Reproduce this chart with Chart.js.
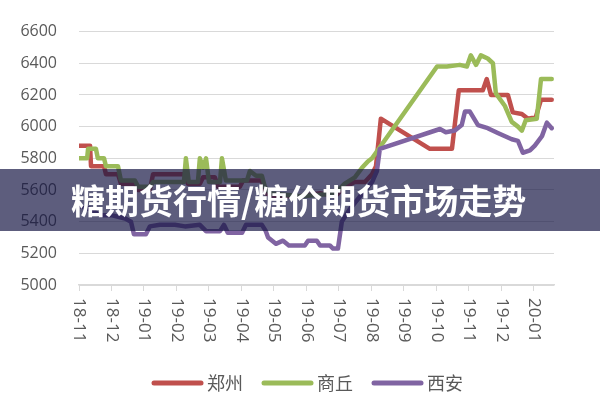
<!DOCTYPE html>
<html>
<head>
<meta charset="utf-8">
<script src="https://cdn.jsdelivr.net/npm/chart.js@4"></script>
<style>
  html, body { margin: 0; padding: 0; background: #fff; }
  #wrap { position: relative; width: 600px; height: 400px; overflow: hidden; }
  #banner {
    position: absolute; left: 0; top: 169px; width: 600px; height: 62px;
    background: rgba(20, 20, 66, 0.69);
  }
  #banner span {
    position: absolute; left: 71px; top: 50%; transform: translateY(-50%);
    font-family: "Noto Sans CJK SC", sans-serif; font-weight: 700;
    font-size: 34px; color: #fff; white-space: nowrap; line-height: 1;
  }
</style>
</head>
<body>
<div id="wrap">
  <canvas id="chart" width="600" height="400"></canvas>
  <div id="banner"><span>糖期货行情/糖价期货市场走势</span></div>
</div>
<script>
/*
  Sugar spot prices, three markets, Nov 2018 - Feb 2020.
  x positions are in months counted from 18-11 (0 = first tick).
*/

const MONTH_LABELS = ["18-11", "18-12", "19-01", "19-02", "19-03", "19-04", "19-05",
  "19-06", "19-07", "19-08", "19-09", "19-10", "19-11", "19-12", "20-01"];
const X_END = 14.62;

const Y_MIN = 5000;
const Y_MAX = 6600;
const Y_STEP = 200;

const SERIES_NAMES = ["郑州", "商丘", "西安"];
const SERIES_COLORS = ["#c0504d", "#9bbb59", "#8064a2"];

// 郑州
const ZHENGZHOU_X = [0, 0.34, 0.37, 0.77, 0.83, 1.2, 1.29, 1.72, 1.82, 2.18, 2.28, 3.26, 3.35,
  3.72, 3.82, 4.18, 4.28, 4.95, 5.05, 5.63, 5.72, 6.03, 6.8, 7.42, 7.88, 8.18, 8.49, 8.8,
  9.02, 9.14, 9.29, 10.8, 11.48, 11.69, 12.43, 12.55, 12.68, 13.2, 13.35, 13.63, 13.82,
  14.06, 14.22, 14.55];
const ZHENGZHOU_Y = [5880, 5880, 5750, 5750, 5700, 5700, 5640, 5640, 5600, 5600, 5700, 5700, 5640,
  5640, 5680, 5680, 5620, 5620, 5660, 5660, 5580, 5560, 5560, 5580, 5560, 5620, 5650, 5650,
  5700, 5750, 6050, 5860, 5860, 6230, 6230, 6300, 6200, 6200, 6090, 6080, 6050,
  6060, 6170, 6170];

// 商丘
const SHANGQIU_X = [0, 0.25, 0.28, 0.52, 0.58, 0.77, 0.83, 1.2, 1.29, 1.72, 1.82, 2.18, 2.28,
  3.23, 3.29, 3.38, 3.66, 3.72, 3.82, 3.91, 4.0, 4.34, 4.4, 4.52, 5.17, 5.26, 5.45, 5.63,
  5.72, 5.88, 6.8, 7.42, 7.88, 8.18, 8.49, 8.71, 8.89, 9.02, 11.02, 11.32, 11.72, 11.94,
  12.06, 12.22, 12.37, 12.58, 12.74, 12.83, 13.11, 13.32, 13.51, 13.63, 13.75, 14.09,
  14.22, 14.55];
const SHANGQIU_Y = [5800, 5800, 5860, 5860, 5800, 5800, 5750, 5750, 5660, 5660, 5620, 5620, 5650,
  5650, 5800, 5650, 5650, 5800, 5740, 5800, 5650, 5650, 5800, 5660, 5660, 5720, 5690, 5690,
  5620, 5580, 5560, 5570, 5580, 5640, 5680, 5740, 5780, 5800, 6380, 6380, 6390, 6380,
  6450, 6390, 6450, 6430, 6400, 6210, 6130, 6030, 6000, 5975, 6040, 6050,
  6300, 6300];

// 西安
const XIAN_X = [0, 0.34, 0.65, 1.02, 1.42, 1.6, 1.69, 2.06, 2.18, 2.49, 2.95, 3.26, 3.72, 3.91,
  4.34, 4.46, 4.58, 5.02, 5.14, 5.63, 5.75, 5.82, 6.06, 6.28, 6.46, 6.95, 7.05, 7.32, 7.42,
  7.72, 7.82, 7.97, 8.09, 8.34, 8.65, 9.02, 9.17, 9.26, 11.11, 11.29, 11.57, 11.78, 11.88,
  12.03, 12.28, 12.58, 12.89, 13.32, 13.51, 13.66, 13.88, 14.03, 14.25, 14.4, 14.55];
const XIAN_Y = [5500, 5480, 5440, 5440, 5420, 5400, 5320, 5320, 5370, 5380, 5380, 5370, 5380, 5340,
  5340, 5380, 5330, 5330, 5380, 5380, 5340, 5300, 5260, 5280, 5250, 5250, 5280, 5280, 5250,
  5250, 5230, 5230, 5400, 5480, 5560, 5650, 5720, 5860, 5985, 5965, 5975, 6010, 6095,
  6095, 6010, 5990, 5960, 5920, 5910, 5835, 5850, 5880, 5940, 6025, 5990];

const TEXT_COLOR = "#595959";
const GRID_COLOR = "#d9d9d9";

function toPoints(xs, ys) {
  return xs.map((x, i) => ({ x, y: ys[i] }));
}

function makeDataset(idx, xs, ys) {
  return {
    label: SERIES_NAMES[idx],
    data: toPoints(xs, ys),
    borderColor: SERIES_COLORS[idx],
    backgroundColor: SERIES_COLORS[idx],
    borderWidth: 4.5,
    borderCapStyle: "round",
    borderJoinStyle: "round",
    pointRadius: 0,
    tension: 0,
    order: 2 - idx, // later series on top, like the original
  };
}

// x labels read top-to-bottom, and the legend is drawn by hand
const extrasPlugin = {
  id: "extras",
  afterDraw(chart) {
    const ctx = chart.ctx;
    const xScale = chart.scales.x;
    ctx.save();
    ctx.fillStyle = TEXT_COLOR;
    ctx.font = '17px "Open Sans"';
    ctx.textAlign = "left";
    ctx.textBaseline = "middle";
    MONTH_LABELS.forEach((lab, i) => {
      const px = xScale.getPixelForValue(i);
      ctx.save();
      ctx.translate(px, xScale.top + 13);
      ctx.rotate(Math.PI / 2);
      ctx.fillText(lab, 0, 0);
      ctx.restore();
    });

    const legendY = 383;
    const itemX = [152, 262, 372];
    ctx.font = '18px "Noto Sans CJK SC"';
    ctx.lineCap = "round";
    ctx.lineWidth = 5;
    SERIES_NAMES.forEach((name, i) => {
      ctx.strokeStyle = SERIES_COLORS[i];
      ctx.beginPath();
      ctx.moveTo(itemX[i] + 2, legendY);
      ctx.lineTo(itemX[i] + 49, legendY);
      ctx.stroke();
      ctx.fillText(name, itemX[i] + 55, legendY);
    });
    ctx.restore();
  },
};

new Chart(document.getElementById("chart"), {
  type: "line",
  data: {
    datasets: [
      makeDataset(0, ZHENGZHOU_X, ZHENGZHOU_Y),
      makeDataset(1, SHANGQIU_X, SHANGQIU_Y),
      makeDataset(2, XIAN_X, XIAN_Y),
    ],
  },
  options: {
    responsive: false,
    animation: false,
    devicePixelRatio: 1,
    layout: { padding: { top: 27, right: 46, left: 0, bottom: 0 } },
    plugins: { legend: { display: false }, tooltip: { enabled: false } },
    scales: {
      x: {
        type: "linear",
        min: 0,
        max: X_END,
        afterBuildTicks: (scale) => {
          scale.ticks = MONTH_LABELS.map((_, i) => ({ value: i }));
        },
        afterFit: (scale) => { scale.height = 115; },
        ticks: { display: false },
        grid: { drawOnChartArea: false, drawTicks: true, tickLength: 6, color: GRID_COLOR, lineWidth: 1 },
        border: { display: true, color: GRID_COLOR, width: 1.5 },
      },
      y: {
        min: Y_MIN,
        max: Y_MAX,
        afterFit: (scale) => { scale.width = 79; },
        ticks: {
          stepSize: Y_STEP,
          padding: 22,
          color: TEXT_COLOR,
          font: { family: "Open Sans", size: 16 },
          callback: (v) => String(v),
        },
        grid: { color: GRID_COLOR, lineWidth: 1, drawTicks: false },
        border: { display: false },
      },
    },
  },
  plugins: [extrasPlugin],
});
</script>
</body>
</html>
